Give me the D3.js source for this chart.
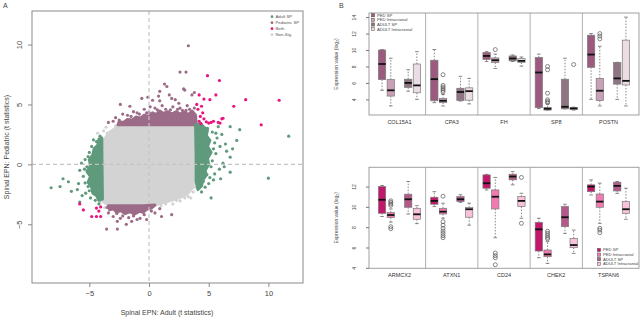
<!DOCTYPE html>
<html>
<head>
<meta charset="utf-8">
<script src="https://cdn.jsdelivr.net/npm/d3@7"></script>
<style>
  body { margin: 0; background: #fff; }
  svg { display: block; font-family: "Liberation Sans", Arial, sans-serif; }
</style>
</head>
<body>
<div id="chart"></div>
<script>
const W = 640, H = 319;

// ---- panel A data (t statistics: [adult, pediatric]) ----
const nonSigHull = [[-3.85,-3.1],[-3.9,-1.5],[-3.85,0.2],[-3.9,1.4],[-3.7,2.1],[-3.4,2.6],[-2.9,2.95],[-2.4,3.3],[3.85,3.3],[3.9,2.3],[3.85,1.2],[3.85,0.3],[3.85,-0.5],[3.8,-1.2],[3.6,-2.0],[3.2,-2.5],[2.5,-2.8],[1.5,-3.1],[0.6,-3.35],[-0.4,-3.4],[-1.5,-3.4],[-2.6,-3.4],[-3.4,-3.4]];
const nonSigPts = [[-4.3,2.6],[-3.8,2.8],[-3.6,3.1],[-4.1,-3.2],[-3.7,-3.6],[3.5,-2.8],[3.3,-2.7],[3.7,-2.3],[2.0,-3.3],[2.6,-3.05],[3.95,-0.9],[4.0,0.3],[-4.0,-1.0],[-4.1,0.4],[-3.2,-3.6],[1.0,-3.45],[3.0,-2.8],[-2.8,3.2],[3.95,2.8],[-4.2,1.4],[3.9,-1.6],[-3.5,2.6],[2.3,-3.0],[1.4,-3.3],[-4.0,-2.3],[-4.05,2.1],[3.85,-1.9]];
const pedTopBand = [[-2.6,3.3],[-2.5,3.55],[-2.1,3.5],[-1.8,3.75],[-1.4,3.7],[-1.1,3.95],[-0.7,3.85],[-0.4,4.1],[0.0,4.0],[0.3,4.3],[0.6,4.15],[0.9,4.45],[1.2,4.25],[1.6,4.4],[1.9,4.2],[2.3,4.4],[2.6,4.2],[3.0,4.35],[3.3,4.15],[3.6,4.45],[3.9,4.1],[3.95,3.3]];
const pedBottomBand = [[-3.4,-3.45],[-3.3,-3.8],[-3.0,-3.7],[-2.7,-4.0],[-2.4,-3.85],[-2.0,-4.1],[-1.6,-3.95],[-1.2,-4.15],[-0.8,-3.9],[-0.5,-4.0],[-0.2,-3.75],[0.2,-3.65],[0.5,-3.4],[-0.5,-3.45],[-2.0,-3.45]];
const adultRightBand = [[3.9,3.3],[4.3,3.4],[4.6,3.1],[4.9,2.9],[4.8,2.4],[5.1,2.0],[4.9,1.5],[5.2,1.0],[4.9,0.5],[5.0,0.0],[4.7,-0.5],[4.8,-0.9],[4.5,-1.3],[4.4,-1.8],[4.1,-2.1],[3.95,-1.4],[3.95,0.5]];
const adultLeftBand = [[-3.9,-2.9],[-4.2,-3.0],[-4.4,-2.6],[-4.7,-2.4],[-4.8,-1.9],[-5.1,-1.5],[-4.9,-1.0],[-5.2,-0.6],[-4.9,-0.1],[-5.0,0.4],[-4.7,0.8],[-4.6,1.3],[-4.3,1.6],[-4.2,2.1],[-3.95,2.2],[-3.95,1.2]];
const pediatricPts = [[3.3,9.9],[2.6,7.7],[3.1,7.7],[1.3,6.7],[1.5,6.5],[2.9,6.3],[3.0,6.2],[3.8,6.0],[0.9,6.1],[1.7,5.8],[-0.1,5.6],[-0.6,5.5],[0.3,5.35],[-2.4,5.0],[-1.6,4.85],[-1.0,4.3],[0.9,5.3],[2.2,5.4],[0.8,5.7],[1.9,5.5],[2.5,5.1],[3.6,5.8],[-3.4,3.5],[-3.0,3.6],[-2.8,3.9],[-2.2,4.2],[-1.8,4.1],[-1.3,4.4],[-0.4,4.6],[0.1,4.8],[0.5,4.7],[1.1,4.9],[1.4,4.6],[2.0,4.8],[2.6,4.7],[3.2,4.9],[3.4,4.6],[3.8,4.7],[-0.8,4.2],[2.8,4.5],[1.8,4.55],[-2.0,3.6],[3.7,4.3],[0.0,4.35],[-1.5,4.0],[-0.2,4.3],[0.7,4.55],[2.4,4.6],[3.1,4.5],[-2.5,3.7],
  [-3.55,-5.4],[-2.65,-5.4],[-2.65,-4.75],[-1.9,-5.0],[-0.75,-4.5],[-0.2,-4.6],[1.05,-4.35],[1.9,-4.2],[0.5,-4.05],[-3.0,-4.35],[-3.4,-4.05],[-1.45,-4.75],[-1.0,-4.6],[-2.2,-4.3],[-0.4,-4.2],[0.2,-3.9],[0.9,-3.7],[-3.5,-3.6],[-2.7,-4.1],[-1.7,-4.45],[-1.3,-4.3],[-2.4,-4.5]];
const bothPts = [[4.9,7.4],[5.9,7.0],[5.6,5.8],[8.1,5.4],[10.9,5.35],[7.1,4.85],[9.4,3.3],[4.2,5.8],[4.6,5.45],[5.1,5.4],[6.1,3.8],[6.2,3.85],[5.95,3.45],[5.0,3.45],[4.8,3.55],[5.2,3.5],[4.3,4.0],[4.1,4.6],[4.4,4.85],[4.5,4.3],[4.2,3.6],[4.0,5.0],[4.6,3.8],[4.35,3.4],[5.4,3.6],[5.8,3.5],
  [-5.8,-3.3],[-5.5,-3.8],[-4.8,-4.35],[-4.4,-4.35],[-4.05,-4.35],[-4.4,-3.65],[-4.05,-3.55],[-4.2,-3.9]];
const adultPts = [[7.6,2.9],[7.35,2.0],[11.7,2.35],[10.0,-1.15],[6.8,-0.65],[5.2,-2.8],[4.2,-1.9],[6.5,1.1],[6.8,0.6],[6.2,0.1],[5.95,1.5],[5.7,2.2],[6.8,3.15],[5.8,3.15],[5.4,-1.3],[4.85,-0.85],[4.55,-1.4],[5.3,2.7],[5.5,1.8],[5.6,0.9],[5.3,0.3],[5.9,-0.4],[6.3,-0.2],[5.0,-1.6],[4.4,-2.3],[6.1,2.5],[5.2,-0.2],[6.0,-1.2],[5.5,-0.8],[4.9,3.0],[6.4,1.7],[7.0,1.3],[5.4,1.3],[5.1,-1.1],[4.7,-1.9],[5.6,2.6],
  [-8.2,-1.95],[-7.2,-1.2],[-6.75,-1.45],[-7.45,-1.85],[-6.5,-2.25],[-6.0,-2.1],[-5.8,-0.5],[-5.65,0.1],[-5.35,0.4],[-5.1,0.65],[-4.8,1.5],[-5.8,-3.15],[-4.1,2.35],[-4.65,2.05],[-5.35,-1.55],[-5.1,-1.85],[-5.5,-1.0],[-5.3,-2.4],[-4.9,-2.8],[-4.5,-3.0],[-5.6,-2.6],[-4.4,1.9],[-5.0,1.0],[-4.2,-3.3],[-5.9,-1.6],[-5.2,-0.2],[-5.4,-0.4],[-5.0,-2.2]];
const scatterLegend = ["Adult SP", "Pediatric SP", "Both", "Non-Sig"];
const xTicksA = [-5, 0, 5, 10];
const yTicksA = [-5, 0, 5, 10];

// ---- panel B data: [lower whisker, q1, median, q3, upper whisker] per group ----
const groups = ["PED SP", "PED Intracranial", "ADULT SP", "ADULT Intracranial"];
const topGenes = ["COL15A1", "CPA3", "FH", "SP8", "POSTN"];
const topStats = [
  [[5.1,6.4,8.3,10.0,10.05],[3.2,4.4,5.1,6.4,9.0],[5.0,5.45,6.0,6.45,7.6],[4.0,4.8,5.7,8.3,9.8]],
  [[3.6,3.83,6.46,8.76,10.06],[3.2,3.6,3.83,4.1,4.6],[3.8,3.85,4.9,5.35,6.8],[3.45,3.9,5.0,5.4,6.55]],
  [[8.6,8.85,9.28,9.7,9.8],[7.76,8.48,8.76,9.04,9.5],[8.6,8.68,8.97,9.28,9.4],[8.04,8.48,8.68,8.97,9.15]],
  [[2.9,3.0,7.27,9.1,9.5],[2.7,2.7,2.86,3.03,3.43],[2.85,2.85,3.1,6.45,9.0],[2.7,2.75,2.9,3.0,3.05]],
  [[4.0,7.9,9.45,11.8,12.0],[3.2,3.85,5.05,6.55,10.45],[4.0,5.85,6.55,8.5,8.5],[3.2,5.75,6.25,11.2,14.0]]
];
const topOutliers = [
  [[],[],[],[]],
  [[],[7.0,5.7,5.5,5.3,5.1,4.9],[],[]],
  [[],[10.05],[],[]],
  [[],[8.0,7.6,4.75,3.95,3.75,3.6],[],[8.24]],
  [[],[12.0,11.7,11.35],[],[]]
];
const bottomGenes = ["ARMCX2", "ATXN1", "CD24", "CHEK2", "TSPAN6"];
const bottomStats = [
  [[9.05,9.37,10.7,12.0,12.1],[8.5,8.95,9.2,9.45,9.8],[9.3,9.96,10.75,11.25,12.5],[8.35,8.78,9.27,9.86,10.12]],
  [[10.03,10.26,10.59,10.95,11.5],[8.88,9.3,9.53,9.86,10.36],[10.45,10.52,10.75,11.01,11.2],[8.2,8.98,9.77,9.93,10.36]],
  [[11.67,11.84,12.33,13.15,13.2],[6.96,9.8,11.0,11.67,12.9],[12.17,12.66,12.99,13.22,13.48],[8.88,10.03,10.59,11.01,11.34]],
  [[4.99,5.65,7.79,8.48,8.88],[4.43,5.09,5.32,5.75,6.57],[7.39,8.05,8.98,10.03,10.26],[5.42,5.98,6.24,6.9,7.72]],
  [[11.18,11.5,12.0,12.17,12.66],[8.38,9.96,10.52,11.27,12.34],[11.33,11.57,12.07,12.43,12.5],[8.78,9.37,9.77,10.52,11.84]]
];
const bottomOutliers = [
  [[],[10.6,10.45,10.3,10.15,8.05,7.85],[],[]],
  [[],[11.05,8.54,8.2,7.89,7.62,7.39,7.16,6.96],[],[]],
  [[],[5.45,5.2,4.99,4.3],[],[12.9,8.38]],
  [[],[7.6,7.4,7.2,7.0,6.85],[],[]],
  [[],[7.89,7.72,7.46],[],[]]
];
const topTicks = [4, 6, 8, 10, 12, 14];
const bottomTicks = [4, 6, 8, 10, 12];

const scatterColors = ["#5f9a7c", "#9c6b88", "#e8157f", "#d3d3d3"];
const topColors = ["#9b5a7e", "#c9a1b6", "#8f7483", "#ecdde5"];
const bottomColors = ["#c2186b", "#f07bb0", "#b5588a", "#f9c2da"];

const svg = d3.select("#chart").append("svg").attr("width", W).attr("height", H);

// ================= Panel A =================
const xA = d3.scaleLinear().domain([-9.8, 12.9]).range([32, 303]);
const yA = d3.scaleLinear().domain([-9.9, 12.8]).range([283, 11]);
const gA = svg.append("g");
const area = d3.line().x(d => xA(d[0])).y(d => yA(d[1])).curve(d3.curveLinearClosed);

// dense regions drawn as filled outlines with round joins (look like packed dots)
function blob(pts, col) {
  gA.append("path").attr("d", area(pts)).attr("fill", col)
    .attr("stroke", col).attr("stroke-width", 3).attr("stroke-linejoin", "round");
}
function dots(pts, col) {
  gA.append("g").selectAll("circle").data(pts).join("circle")
    .attr("cx", d => xA(d[0])).attr("cy", d => yA(d[1])).attr("r", 1.6).attr("fill", col);
}

blob(nonSigHull, scatterColors[3]);
dots(nonSigPts, scatterColors[3]);
blob(pedTopBand, scatterColors[1]);
blob(pedBottomBand, scatterColors[1]);
blob(adultRightBand, scatterColors[0]);
blob(adultLeftBand, scatterColors[0]);
dots(pediatricPts, scatterColors[1]);
dots(adultPts, scatterColors[0]);
dots(bothPts, scatterColors[2]);

// dashed zero lines
gA.append("line").attr("x1", xA(0)).attr("x2", xA(0)).attr("y1", 11).attr("y2", 283)
  .attr("stroke", "#c4c4c4").attr("stroke-width", 1.2).attr("stroke-dasharray", "4,3");
gA.append("line").attr("x1", 32).attr("x2", 303).attr("y1", yA(0)).attr("y2", yA(0))
  .attr("stroke", "#c4c4c4").attr("stroke-width", 1.2).attr("stroke-dasharray", "4,3");

gA.append("rect").attr("x", 32).attr("y", 11).attr("width", 271).attr("height", 272)
  .attr("fill", "none").attr("stroke", "#8a8a8a").attr("stroke-width", 1);

const fmtMinus = d => d < 0 ? "\u2212" + Math.abs(d) : d;
const xAxA = gA.append("g").attr("transform", "translate(0,283)")
  .call(d3.axisBottom(xA).tickValues(xTicksA).tickSize(4).tickPadding(4).tickFormat(fmtMinus));
const yAxA = gA.append("g").attr("transform", "translate(32,0)")
  .call(d3.axisLeft(yA).tickValues(yTicksA).tickSize(4).tickPadding(2).tickFormat(fmtMinus));
[xAxA, yAxA].forEach(a => {
  a.select(".domain").remove();
  a.selectAll("line").attr("stroke", "#8a8a8a");
  a.selectAll("text").attr("font-size", 7.5).attr("fill", "#444");
});
yAxA.selectAll("text").attr("transform", "rotate(-90)").attr("x", 0).attr("y", -10)
  .attr("dy", 0).attr("text-anchor", "middle");

gA.append("text").attr("x", 167).attr("y", 315).attr("text-anchor", "middle")
  .attr("font-size", 7).attr("fill", "#444").text("Spinal EPN: Adult (t statistics)");
gA.append("text").attr("transform", "translate(9,147) rotate(-90)").attr("text-anchor", "middle")
  .attr("font-size", 7).attr("fill", "#444").text("Spinal EPN: Pediatric (t statistics)");
svg.append("text").attr("x", 3).attr("y", 8).attr("font-size", 7).attr("fill", "#444").text("A");

const legA = gA.append("g").selectAll("g").data(scatterLegend).join("g")
  .attr("transform", (d, i) => `translate(272,${16.7 + i * 6})`);
legA.append("circle").attr("r", 1.4).attr("fill", (d, i) => scatterColors[i]);
legA.append("text").attr("x", 3.5).attr("dy", "0.35em").attr("font-size", 4.3).attr("fill", "#555").text(d => d);

// ================= Panel B =================
svg.append("text").attr("x", 339).attr("y", 8).attr("font-size", 7).attr("fill", "#444").text("B");

const xB = d3.scaleLinear().domain([-1.5, 29.5]).range([369, 639]);
const offsets = [0, 1, 3, 4];
const boxW = 7.3;

function drawBoxPanel(genes, stats, outliers, colors, top, bottom, yDomain, ticks, legX, legY) {
  const y = d3.scaleLinear().domain(yDomain).range([bottom, top]);
  const g = svg.append("g");

  // dividers between genes
  g.selectAll("line.div").data([5, 11, 17, 23]).join("line").attr("class", "div")
    .attr("x1", d => xB(d)).attr("x2", d => xB(d)).attr("y1", top).attr("y2", bottom)
    .attr("stroke", "#b0b0b0").attr("stroke-width", 1);

  const boxes = [];
  genes.forEach((gene, gi) => {
    stats[gi].forEach((s, k) => boxes.push({gi, k, s, out: outliers[gi][k], pos: gi * 6 + offsets[k]}));
  });

  const bg = g.selectAll("g.box").data(boxes).join("g").attr("class", "box")
    .attr("transform", d => `translate(${xB(d.pos)},0)`);
  // whiskers
  bg.append("line").attr("y1", d => y(d.s[3])).attr("y2", d => y(d.s[4]))
    .attr("stroke", "#555").attr("stroke-width", 0.7).attr("stroke-dasharray", "1.5,1.5");
  bg.append("line").attr("y1", d => y(d.s[1])).attr("y2", d => y(d.s[0]))
    .attr("stroke", "#555").attr("stroke-width", 0.7).attr("stroke-dasharray", "1.5,1.5");
  bg.append("line").attr("x1", -boxW / 4).attr("x2", boxW / 4)
    .attr("y1", d => y(d.s[4])).attr("y2", d => y(d.s[4])).attr("stroke", "#555").attr("stroke-width", 0.7);
  bg.append("line").attr("x1", -boxW / 4).attr("x2", boxW / 4)
    .attr("y1", d => y(d.s[0])).attr("y2", d => y(d.s[0])).attr("stroke", "#555").attr("stroke-width", 0.7);
  // box
  bg.append("rect").attr("x", -boxW / 2).attr("width", boxW)
    .attr("y", d => y(d.s[3])).attr("height", d => Math.max(0.8, y(d.s[1]) - y(d.s[3])))
    .attr("fill", d => colors[d.k]).attr("stroke", "#7a7a7a").attr("stroke-width", 0.7);
  // median
  bg.append("line").attr("x1", -boxW / 2).attr("x2", boxW / 2)
    .attr("y1", d => y(d.s[2])).attr("y2", d => y(d.s[2])).attr("stroke", "#111").attr("stroke-width", 1.8);
  // outliers
  bg.selectAll("circle").data(d => d.out).join("circle")
    .attr("cy", d => y(d)).attr("r", 2).attr("fill", "none").attr("stroke", "#555").attr("stroke-width", 0.7);

  g.append("rect").attr("x", 369).attr("y", top).attr("width", 270).attr("height", bottom - top)
    .attr("fill", "none").attr("stroke", "#a0a0a0").attr("stroke-width", 1);

  // y axis, labels rotated like R's default left axis
  const ax = g.append("g").attr("transform", "translate(369,0)")
    .call(d3.axisLeft(y).tickValues(ticks).tickSize(3).tickFormat(d3.format("d")));
  ax.select(".domain").remove();
  ax.selectAll("line").attr("stroke", "#777");
  ax.selectAll("text").attr("font-size", 5).attr("fill", "#444")
    .attr("x", 0).attr("y", -13).attr("dy", 0).attr("text-anchor", "middle")
    .attr("transform", "rotate(-90)");

  g.append("text").attr("transform", `translate(338,${(top + bottom) / 2}) rotate(-90)`)
    .attr("text-anchor", "middle").attr("font-size", 5).attr("fill", "#444").text("Expression value (log\u2082)");

  // gene labels
  g.selectAll("text.gene").data(genes).join("text").attr("class", "gene")
    .attr("x", (d, i) => xB(i * 6 + 2)).attr("y", bottom + 8.5).attr("text-anchor", "middle")
    .attr("font-size", 5.5).attr("fill", "#333").text(d => d);

  // legend
  const leg = g.append("g").selectAll("g").data(groups).join("g")
    .attr("transform", (d, i) => `translate(${legX},${legY + i * 4.6})`);
  leg.append("rect").attr("x", -1.6).attr("y", -1.6).attr("width", 3.2).attr("height", 3.2)
    .attr("fill", (d, i) => colors[i]).attr("stroke", "#555").attr("stroke-width", 0.5);
  leg.append("text").attr("x", 4).attr("dy", "0.35em").attr("font-size", 4.2).attr("fill", "#444").text(d => d);
}

drawBoxPanel(topGenes, topStats, topOutliers, topColors, 13, 115, [2.1, 14.5], topTicks, 373, 15.3);
drawBoxPanel(bottomGenes, bottomStats, bottomOutliers, bottomColors, 167.3, 268.3, [3.95, 13.9], bottomTicks, 599, 250);
</script>
</body>
</html>
